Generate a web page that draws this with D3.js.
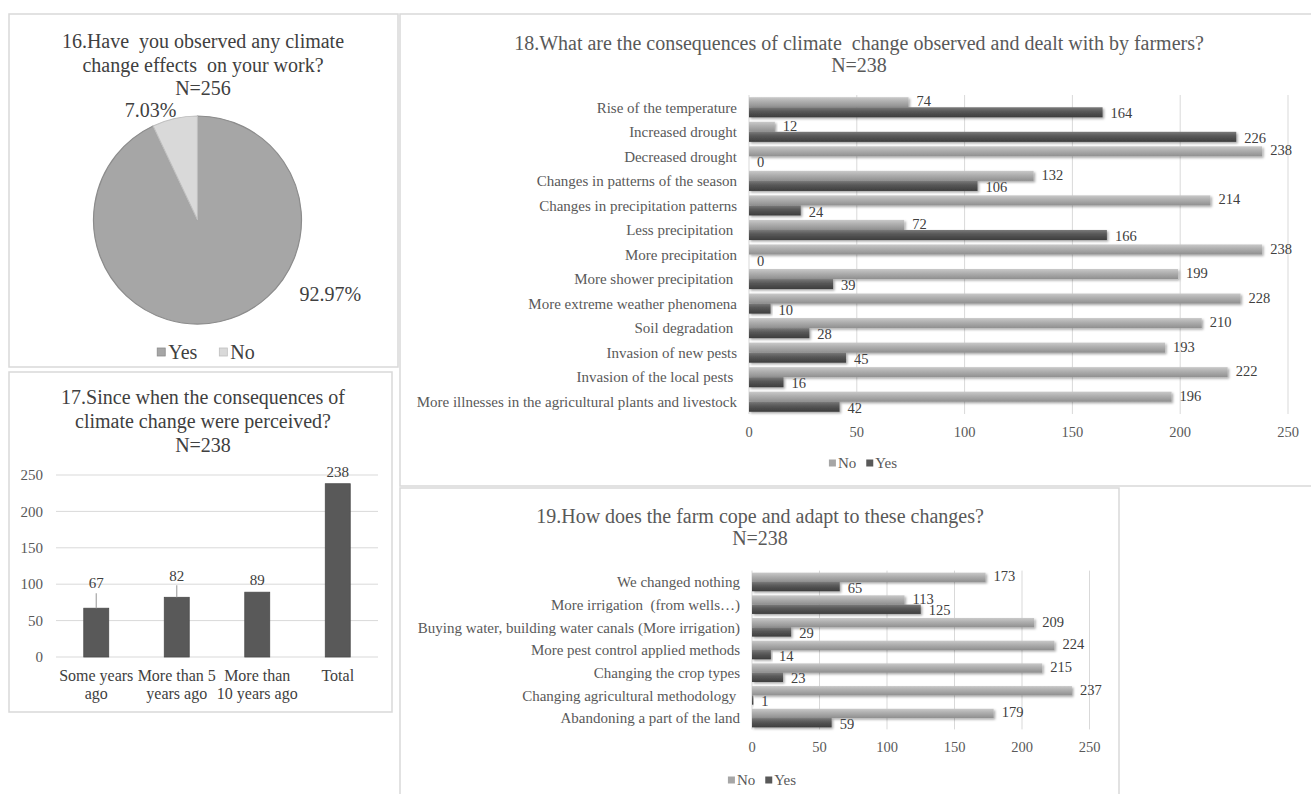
<!DOCTYPE html>
<html>
<head>
<meta charset="utf-8">
<script src="https://cdn.jsdelivr.net/npm/d3@7"></script>
<style>
  body { margin: 0; background: #fff; }
  svg { display: block; font-family: "Liberation Serif", "Times New Roman", serif; }
  text { white-space: pre; }
</style>
</head>
<body>
<svg id="chart" width="1311" height="794"></svg>
<script>
// ---------- Data ----------
// Q16: observed climate change effects (percent of N=256)
const q16Labels = ["Yes", "No"];
const q16Values = [92.97, 7.03];

// Q17: since when consequences were perceived (N=238)
const q17Categories = ["Some years ago", "More than 5 years ago", "More than 10 years ago", "Total"];
const q17LabelLines = [["Some years", "ago"], ["More than 5", "years ago"], ["More than", "10 years ago"], ["Total"]];
const q17Values = [67, 82, 89, 238];
const q17Ticks = [0, 50, 100, 150, 200, 250];

// Q18: consequences observed by farmers (N=238)
const q18Categories = [
  "Rise of the temperature",
  "Increased drought",
  "Decreased drought",
  "Changes in patterns of the season",
  "Changes in precipitation patterns",
  "Less precipitation ",
  "More precipitation",
  "More shower precipitation ",
  "More extreme weather phenomena",
  "Soil degradation ",
  "Invasion of new pests",
  "Invasion of the local pests ",
  "More illnesses in the agricultural plants and livestock"
];
const q18No  = [74, 12, 238, 132, 214, 72, 238, 199, 228, 210, 193, 222, 196];
const q18Yes = [164, 226, 0, 106, 24, 166, 0, 39, 10, 28, 45, 16, 42];

// Q19: how farms cope and adapt (N=238)
const q19Categories = [
  "We changed nothing",
  "More irrigation  (from wells…)",
  "Buying water, building water canals (More irrigation)",
  "More pest control applied methods",
  "Changing the crop types",
  "Changing agricultural methodology ",
  "Abandoning a part of the land"
];
const q19No  = [173, 113, 209, 224, 215, 237, 179];
const q19Yes = [65, 125, 29, 14, 23, 1, 59];

const countTicks = [0, 50, 100, 150, 200, 250];
const seriesNames = ["No", "Yes"];

// ---------- Setup ----------
const svg = d3.select("#chart");
const TEXT_DARK = "#404040";
const TEXT_GRAY = "#595959";
const GRID = "#d9d9d9";

const defs = svg.append("defs");
function vGradient(id, stops) {
  const g = defs.append("linearGradient").attr("id", id)
    .attr("x1", 0).attr("y1", 0).attr("x2", 0).attr("y2", 1);
  stops.forEach(([o, c]) => g.append("stop").attr("offset", o).attr("stop-color", c));
}
vGradient("gNo",  [["0%", "#c9c9c9"], ["40%", "#b0b0b0"], ["100%", "#8f8f8f"]]);
vGradient("gYes", [["0%", "#7a7a7a"], ["40%", "#595959"], ["100%", "#3d3d3d"]]);
const shadow = defs.append("filter").attr("id", "barShadow")
  .attr("x", "-5%").attr("y", "-30%").attr("width", "115%").attr("height", "180%");
shadow.append("feDropShadow").attr("dx", 1.5).attr("dy", 1.5)
  .attr("stdDeviation", 1.2).attr("flood-color", "#000").attr("flood-opacity", 0.35);

// Panel frames
const panels = [
  { x: 9, y: 14, w: 389, h: 353 },
  { x: 9, y: 372, w: 383, h: 340 },
  { x: 400, y: 14, w: 930, h: 472 },
  { x: 400, y: 488, w: 719, h: 330 }
];
svg.selectAll("rect.panel").data(panels).join("rect")
  .attr("class", "panel")
  .attr("x", d => d.x).attr("y", d => d.y)
  .attr("width", d => d.w).attr("height", d => d.h)
  .attr("fill", "#fff").attr("stroke", GRID).attr("stroke-width", 1.5);

function titleBlock(lines, cx, y0, lineH, size, color) {
  lines.forEach((t, i) => {
    svg.append("text").attr("x", cx).attr("y", y0 + i * lineH).attr("dy", "0.35em")
      .attr("text-anchor", "middle").attr("font-size", size).attr("fill", color).text(t);
  });
}

function legend(cx, cy, items, sq, gapText, gapItem, size, color) {
  const g = svg.append("g");
  let x = 0;
  items.forEach(it => {
    g.append("rect").attr("x", x).attr("y", cy - sq / 2).attr("width", sq).attr("height", sq)
      .attr("fill", it.color).attr("stroke", it.stroke || "none").attr("stroke-width", 0.8);
    x += sq + gapText;
    const t = g.append("text").attr("x", x).attr("y", cy).attr("dy", "0.35em")
      .attr("font-size", size).attr("fill", color).text(it.label);
    x += t.node().getComputedTextLength() + gapItem;
  });
  x -= gapItem;
  g.attr("transform", `translate(${cx - x / 2},0)`);
}

// ---------- Q16 pie ----------
titleBlock(["16.Have  you observed any climate", "change effects  on your work?", "N=256"], 203, 41, 23.5, 20, TEXT_DARK);

const pieC = { x: 197.5, y: 220 }, pieR = 104;
const pie = d3.pie().sort(null).value(d => d)(q16Values);
const arc = d3.arc().innerRadius(0).outerRadius(pieR);
const pieFill = ["#a6a6a6", "#d9d9d9"];
const pieStroke = ["#8c8c8c", "#bfbfbf"];
const pg = svg.append("g").attr("transform", `translate(${pieC.x},${pieC.y})`);
pg.selectAll("path").data(pie).join("path")
  .attr("d", arc).attr("fill", (d, i) => pieFill[i])
  .attr("stroke", (d, i) => pieStroke[i]).attr("stroke-width", 1.2);
// percentage labels (polar placement around the centre)
const pieLabelPolar = [{ a: 119, r: 152 }, { a: -23, r: 120 }];
pie.forEach((d, i) => {
  const p = pieLabelPolar[i], rad = p.a * Math.PI / 180;
  pg.append("text").attr("x", p.r * Math.sin(rad)).attr("y", -p.r * Math.cos(rad)).attr("dy", "0.35em")
    .attr("text-anchor", "middle").attr("font-size", 20).attr("fill", TEXT_DARK)
    .text(d3.format(".2f")(d.data) + "%");
});
legend(206, 352, q16Labels.map((l, i) => ({ label: l, color: pieFill[i], stroke: pieStroke[i] })),
  8, 3, 22, 20, TEXT_DARK);

// ---------- Q17 column chart ----------
titleBlock(["17.Since when the consequences of", "climate change were perceived?", "N=238"], 203, 397, 24, 20, TEXT_DARK);

const x17 = d3.scaleBand().domain(q17Categories).range([56, 378]).paddingInner(0.69).paddingOuter(0.345);
const y17 = d3.scaleLinear().domain([0, 250]).range([657, 475]);
const g17 = svg.append("g");
g17.selectAll("line.grid").data(q17Ticks).join("line").attr("class", "grid")
  .attr("x1", 56).attr("x2", 378).attr("y1", d => y17(d)).attr("y2", d => y17(d))
  .attr("stroke", GRID).attr("stroke-width", 1);
g17.selectAll("text.tick").data(q17Ticks).join("text").attr("class", "tick")
  .attr("x", 43).attr("y", d => y17(d)).attr("dy", "0.35em").attr("text-anchor", "end")
  .attr("font-size", 15).attr("fill", TEXT_GRAY).text(d => d);
g17.selectAll("rect.bar").data(q17Values).join("rect").attr("class", "bar")
  .attr("x", (d, i) => x17(q17Categories[i])).attr("width", x17.bandwidth())
  .attr("y", d => y17(d)).attr("height", d => y17(0) - y17(d))
  .attr("fill", "#595959").attr("stroke", "#4a4a4a").attr("stroke-width", 0.8);
// value labels; the first two sit higher with a leader line back to the bar
const q17LabelLift = [13, 10, 0, 0];
q17Values.forEach((v, i) => {
  const cx = x17(q17Categories[i]) + x17.bandwidth() / 2;
  const ly = y17(v) - 12 - q17LabelLift[i];
  if (q17LabelLift[i] > 0) {
    g17.append("line").attr("x1", cx).attr("x2", cx).attr("y1", y17(v)).attr("y2", ly + 10)
      .attr("stroke", "#a6a6a6").attr("stroke-width", 1.2);
  }
  g17.append("text").attr("x", cx).attr("y", ly).attr("dy", "0.35em").attr("text-anchor", "middle")
    .attr("font-size", 15).attr("fill", TEXT_DARK).text(v);
});
q17LabelLines.forEach((lines, i) => {
  const cx = x17(q17Categories[i]) + x17.bandwidth() / 2;
  lines.forEach((t, j) => {
    g17.append("text").attr("x", cx).attr("y", 675 + j * 18).attr("dy", "0.35em")
      .attr("text-anchor", "middle").attr("font-size", 16).attr("fill", TEXT_DARK).text(t);
  });
});

// ---------- Grouped horizontal bar charts (Q18, Q19) ----------
function hbarChart(cfg) {
  const g = svg.append("g");
  titleBlock(cfg.title, cfg.titleX, cfg.titleY, 22, 20, TEXT_GRAY);
  const x = d3.scaleLinear().domain([0, 250]).range([cfg.x0, cfg.x1]);
  const y = d3.scaleBand().domain(cfg.categories).range([cfg.yTop, cfg.yBot])
    .paddingInner(0.18).paddingOuter(0.09);
  const sub = d3.scaleBand().domain(seriesNames).range([0, y.bandwidth()]);

  g.selectAll("line.grid").data(countTicks).join("line").attr("class", "grid")
    .attr("x1", d => x(d)).attr("x2", d => x(d))
    .attr("y1", cfg.yTop).attr("y2", cfg.yBot)
    .attr("stroke", GRID).attr("stroke-width", 1);
  g.selectAll("text.tick").data(countTicks).join("text").attr("class", "tick")
    .attr("x", d => x(d)).attr("y", cfg.tickY).attr("dy", "0.35em").attr("text-anchor", "middle")
    .attr("font-size", 14.5).attr("fill", TEXT_GRAY).text(d => d);
  g.selectAll("text.cat").data(cfg.categories).join("text").attr("class", "cat")
    .attr("x", cfg.x0 - 12).attr("y", d => y(d) + y.bandwidth() / 2).attr("dy", "0.35em")
    .attr("text-anchor", "end").attr("font-size", 15).attr("fill", TEXT_GRAY).text(d => d);

  const rows = [];
  cfg.categories.forEach((c, i) => {
    rows.push({ cat: c, s: "No", v: cfg.no[i] });
    rows.push({ cat: c, s: "Yes", v: cfg.yes[i] });
  });
  g.selectAll("rect.bar").data(rows).join("rect").attr("class", "bar")
    .attr("x", x(0)).attr("y", d => y(d.cat) + sub(d.s))
    .attr("width", d => x(d.v) - x(0)).attr("height", sub.bandwidth())
    .attr("fill", d => d.s === "No" ? "url(#gNo)" : "url(#gYes)")
    .attr("filter", "url(#barShadow)");
  g.selectAll("text.val").data(rows).join("text").attr("class", "val")
    .attr("x", d => x(d.v) + 8).attr("y", d => y(d.cat) + sub(d.s) + sub.bandwidth() / 2 + (d.s === "Yes" ? 1 : -1))
    .attr("dy", "0.35em").attr("font-size", 14.5).attr("fill", TEXT_DARK).text(d => d.v);

  legend(cfg.legendX, cfg.legendY, [
    { label: "No", color: "#a6a6a6" }, { label: "Yes", color: "#595959" }
  ], 7, 2, 10, 15, TEXT_GRAY);
}

hbarChart({
  title: ["18.What are the consequences of climate  change observed and dealt with by farmers?", "N=238"],
  titleX: 859, titleY: 43,
  categories: q18Categories, no: q18No, yes: q18Yes,
  x0: 749, x1: 1288, yTop: 95, yBot: 414,
  tickY: 432, legendX: 863, legendY: 463
});

hbarChart({
  title: ["19.How does the farm cope and adapt to these changes?", "N=238"],
  titleX: 760, titleY: 516,
  categories: q19Categories, no: q19No, yes: q19Yes,
  x0: 752, x1: 1089.5, yTop: 570.6, yBot: 729.4,
  tickY: 747, legendX: 762, legendY: 780
});
</script>
</body>
</html>
